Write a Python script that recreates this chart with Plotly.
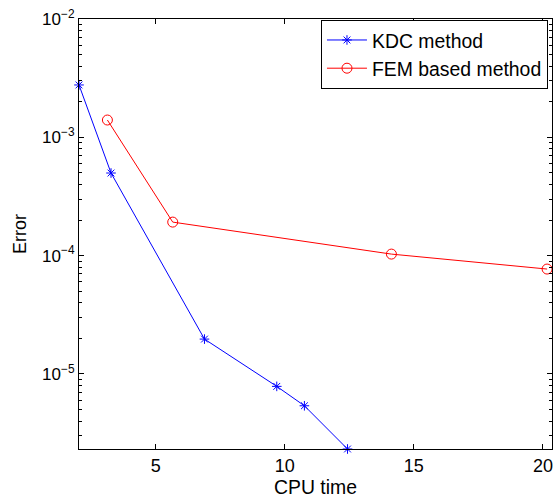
import plotly.graph_objects as go
import numpy as np

kdc_time = [2.03, 3.27, 6.89, 9.69, 10.76, 12.43]
kdc_error = [2.77e-3, 4.99e-4, 1.97e-5, 7.85e-6, 5.38e-6, 2.32e-6]
fem_time = [3.13, 5.66, 14.13, 20.16]
fem_error = [1.40e-3, 1.92e-4, 1.03e-4, 7.7e-5]

x_ticks = [5, 10, 15, 20]
y_ticks = [1e-5, 1e-4, 1e-3, 1e-2]
y_tick_labels = ["10<sup>\u22125</sup>", "10<sup>\u22124</sup>", "10<sup>\u22123</sup>", "10<sup>\u22122</sup>"]

minor_y = [m * 10.0**e for e in range(-6, -2) for m in range(2, 10)]

fig = go.Figure()
fig.add_trace(go.Scatter(
    x=kdc_time, y=kdc_error, mode="lines+markers", name="KDC method",
    line=dict(color="#0000ff", width=1),
    marker=dict(symbol="asterisk-open", size=8, color="#0000ff", line=dict(color="#0000ff", width=1)),
    cliponaxis=False,
))
fig.add_trace(go.Scatter(
    x=fem_time, y=fem_error, mode="lines+markers", name="FEM based method",
    line=dict(color="#ff0000", width=1),
    marker=dict(symbol="circle-open", size=10, color="#ff0000", line=dict(color="#ff0000", width=1)),
    cliponaxis=False,
))

fam = "Liberation Sans, Arial, sans-serif"
font = dict(family=fam, size=18, color="black")
big = dict(family=fam, size=19.4, color="black")

fig.update_layout(
    width=555, height=502,
    margin=dict(l=79, r=3, t=19, b=53),
    paper_bgcolor="white", plot_bgcolor="white",
    font=font,
    showlegend=True,
    legend=dict(
        x=0.9915, y=0.998, xanchor="right", yanchor="top",
        bgcolor="white", bordercolor="black", borderwidth=1,
        font=big, tracegroupgap=0, itemwidth=40,
    ),
    xaxis=dict(
        range=[2.03, 20.35], tickvals=x_ticks, ticks="inside", ticklen=5,
        tickcolor="black", showline=True, linecolor="black", linewidth=1,
        mirror="ticks", showgrid=False, zeroline=False,
        title=dict(text="CPU time", font=big, standoff=1),
        tickfont=font,
    ),
    yaxis=dict(
        type="log", range=[np.log10(2.32e-6), -2], tickvals=y_ticks,
        ticktext=y_tick_labels, ticks="inside", ticklen=5,
        tickcolor="black", showline=True, linecolor="black", linewidth=1,
        mirror="ticks", showgrid=False, zeroline=False,
        title=dict(text="Error", font=font, standoff=10),
        tickfont=dict(family=fam, size=17, color="black"),
        minor=dict(tickvals=minor_y, ticks="inside", ticklen=3, tickcolor="black", showgrid=False),
    ),
)

fig.write_html("out.html", post_script="document.body.style.margin='0';",
               config={"displayModeBar": False})
